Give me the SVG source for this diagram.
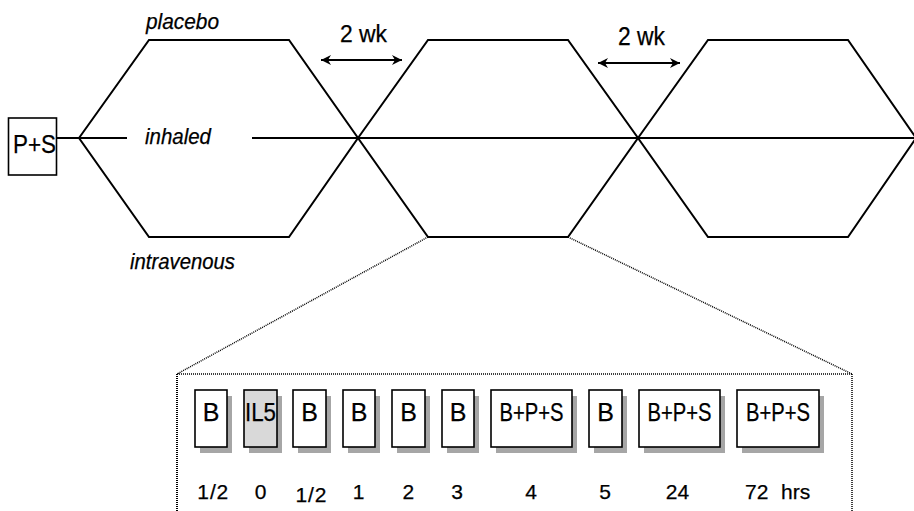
<svg xmlns="http://www.w3.org/2000/svg" width="914" height="511" viewBox="0 0 914 511">
<style>
.ln{fill:none;stroke:#000;stroke-width:2;stroke-linejoin:miter}
.dot{fill:none;stroke:#000;stroke-width:1.5;stroke-dasharray:1 1}
.bx{fill:#fff;stroke:#000;stroke-width:1.6}
.sh{fill:#a6a6a6;stroke:none}
.t{font-family:"Liberation Sans",Arial,Helvetica,sans-serif;fill:#000;stroke:#000;stroke-width:0.25}
.it{font-style:italic;font-size:22px}
.bt{font-size:25px;text-anchor:middle}
.lb{font-size:21px;text-anchor:middle}
</style>
<defs>
<marker id="ah" viewBox="0 0 10 10" refX="10" refY="5" markerWidth="10" markerHeight="10" markerUnits="userSpaceOnUse" orient="auto-start-reverse">
<path d="M0,0 L10,5 L0,10 L3,5 z" fill="#000"/>
</marker>
</defs>
<rect width="914" height="511" fill="#fff"/>

<g id="hexagons">
<polygon class="ln" points="79,138 149,40 289,40 358,138 289,237 149,237"/>
<polygon class="ln" points="358,138 428,40 568,40 638,138 568,237 428,237"/>
<polygon class="ln" points="638,138 708,40 848,40 916,138 848,237 708,237"/>
</g>

<g id="connectors">
<line class="ln" x1="57" y1="138" x2="127" y2="138"/>
<line class="ln" x1="252" y1="138" x2="916" y2="138"/>
<line class="ln" x1="321" y1="60" x2="402" y2="60" marker-start="url(#ah)" marker-end="url(#ah)"/>
<line class="ln" x1="598" y1="63" x2="680" y2="63" marker-start="url(#ah)" marker-end="url(#ah)"/>
<line class="dot" x1="428" y1="237" x2="177" y2="374"/>
<line class="dot" x1="568" y1="237" x2="852" y2="374"/>
<line class="dot" x1="177" y1="374" x2="852" y2="374"/>
<line class="dot" x1="177" y1="374" x2="177" y2="511" style="stroke-width:2"/>
<line class="dot" x1="852" y1="374" x2="852" y2="511"/>
</g>

<g id="labels">
<text class="t it" x="146" y="28.5" textLength="73" lengthAdjust="spacingAndGlyphs">placebo</text>
<text class="t it" x="145" y="144" textLength="66" lengthAdjust="spacingAndGlyphs">inhaled</text>
<text class="t it" x="130" y="269" textLength="105" lengthAdjust="spacingAndGlyphs">intravenous</text>
<text class="t" x="340" y="42" font-size="23" textLength="47" lengthAdjust="spacingAndGlyphs">2 wk</text>
<text class="t" x="618" y="45" font-size="25" textLength="47" lengthAdjust="spacingAndGlyphs">2 wk</text>
</g>

<g id="node-ps">
<rect class="bx" x="8.5" y="118" width="48" height="57"/>
<text class="t" x="13" y="153" font-size="26" textLength="43" lengthAdjust="spacingAndGlyphs">P+S</text>
</g>

<g id="node-b1"><rect class="sh" x="200" y="396" width="32" height="57"/><rect class="bx" x="195" y="390" width="32" height="57"/><text class="t bt" x="211" y="420.5">B</text></g>
<g id="node-il5"><rect class="sh" x="249" y="396" width="33" height="57"/><rect class="bx" x="244" y="390" width="33" height="57" style="fill:#d9d9d9"/><text class="t bt" x="260.5" y="420.5" textLength="31" lengthAdjust="spacingAndGlyphs">IL5</text></g>
<g id="node-b2"><rect class="sh" x="298" y="396" width="33" height="57"/><rect class="bx" x="293" y="390" width="33" height="57"/><text class="t bt" x="309.5" y="420.5">B</text></g>
<g id="node-b3"><rect class="sh" x="348" y="396" width="32" height="57"/><rect class="bx" x="343" y="390" width="32" height="57"/><text class="t bt" x="359" y="420.5">B</text></g>
<g id="node-b4"><rect class="sh" x="397" y="396" width="33" height="57"/><rect class="bx" x="392" y="390" width="33" height="57"/><text class="t bt" x="408.5" y="420.5">B</text></g>
<g id="node-b5"><rect class="sh" x="447" y="396" width="32" height="57"/><rect class="bx" x="442" y="390" width="32" height="57"/><text class="t bt" x="458" y="420.5">B</text></g>
<g id="node-bps1"><rect class="sh" x="496" y="396" width="81" height="57"/><rect class="bx" x="491" y="390" width="81" height="57"/><text class="t bt" x="531.5" y="420.5" textLength="64" lengthAdjust="spacingAndGlyphs">B+P+S</text></g>
<g id="node-b6"><rect class="sh" x="594" y="396" width="33" height="57"/><rect class="bx" x="589" y="390" width="33" height="57"/><text class="t bt" x="605.5" y="420.5">B</text></g>
<g id="node-bps2"><rect class="sh" x="644" y="396" width="81" height="57"/><rect class="bx" x="639" y="390" width="81" height="57"/><text class="t bt" x="679.5" y="420.5" textLength="64" lengthAdjust="spacingAndGlyphs">B+P+S</text></g>
<g id="node-bps3"><rect class="sh" x="742" y="396" width="82" height="57"/><rect class="bx" x="737" y="390" width="82" height="57"/><text class="t bt" x="778" y="420.5" textLength="64" lengthAdjust="spacingAndGlyphs">B+P+S</text></g>

<g id="time-labels">
<text class="t lb" x="212.8" y="499" textLength="31" lengthAdjust="spacing">1/2</text>
<text class="t lb" x="260.5" y="499">0</text>
<text class="t lb" x="311" y="501.5" textLength="31" lengthAdjust="spacing">1/2</text>
<text class="t lb" x="358.7" y="499">1</text>
<text class="t lb" x="408.3" y="499">2</text>
<text class="t lb" x="457" y="499">3</text>
<text class="t lb" x="531" y="499">4</text>
<text class="t lb" x="605" y="499">5</text>
<text class="t lb" x="677.5" y="499">24</text>
<text class="t" x="745" y="499" font-size="21" xml:space="preserve">72<tspan x="781">hrs</tspan></text>
</g>
</svg>
